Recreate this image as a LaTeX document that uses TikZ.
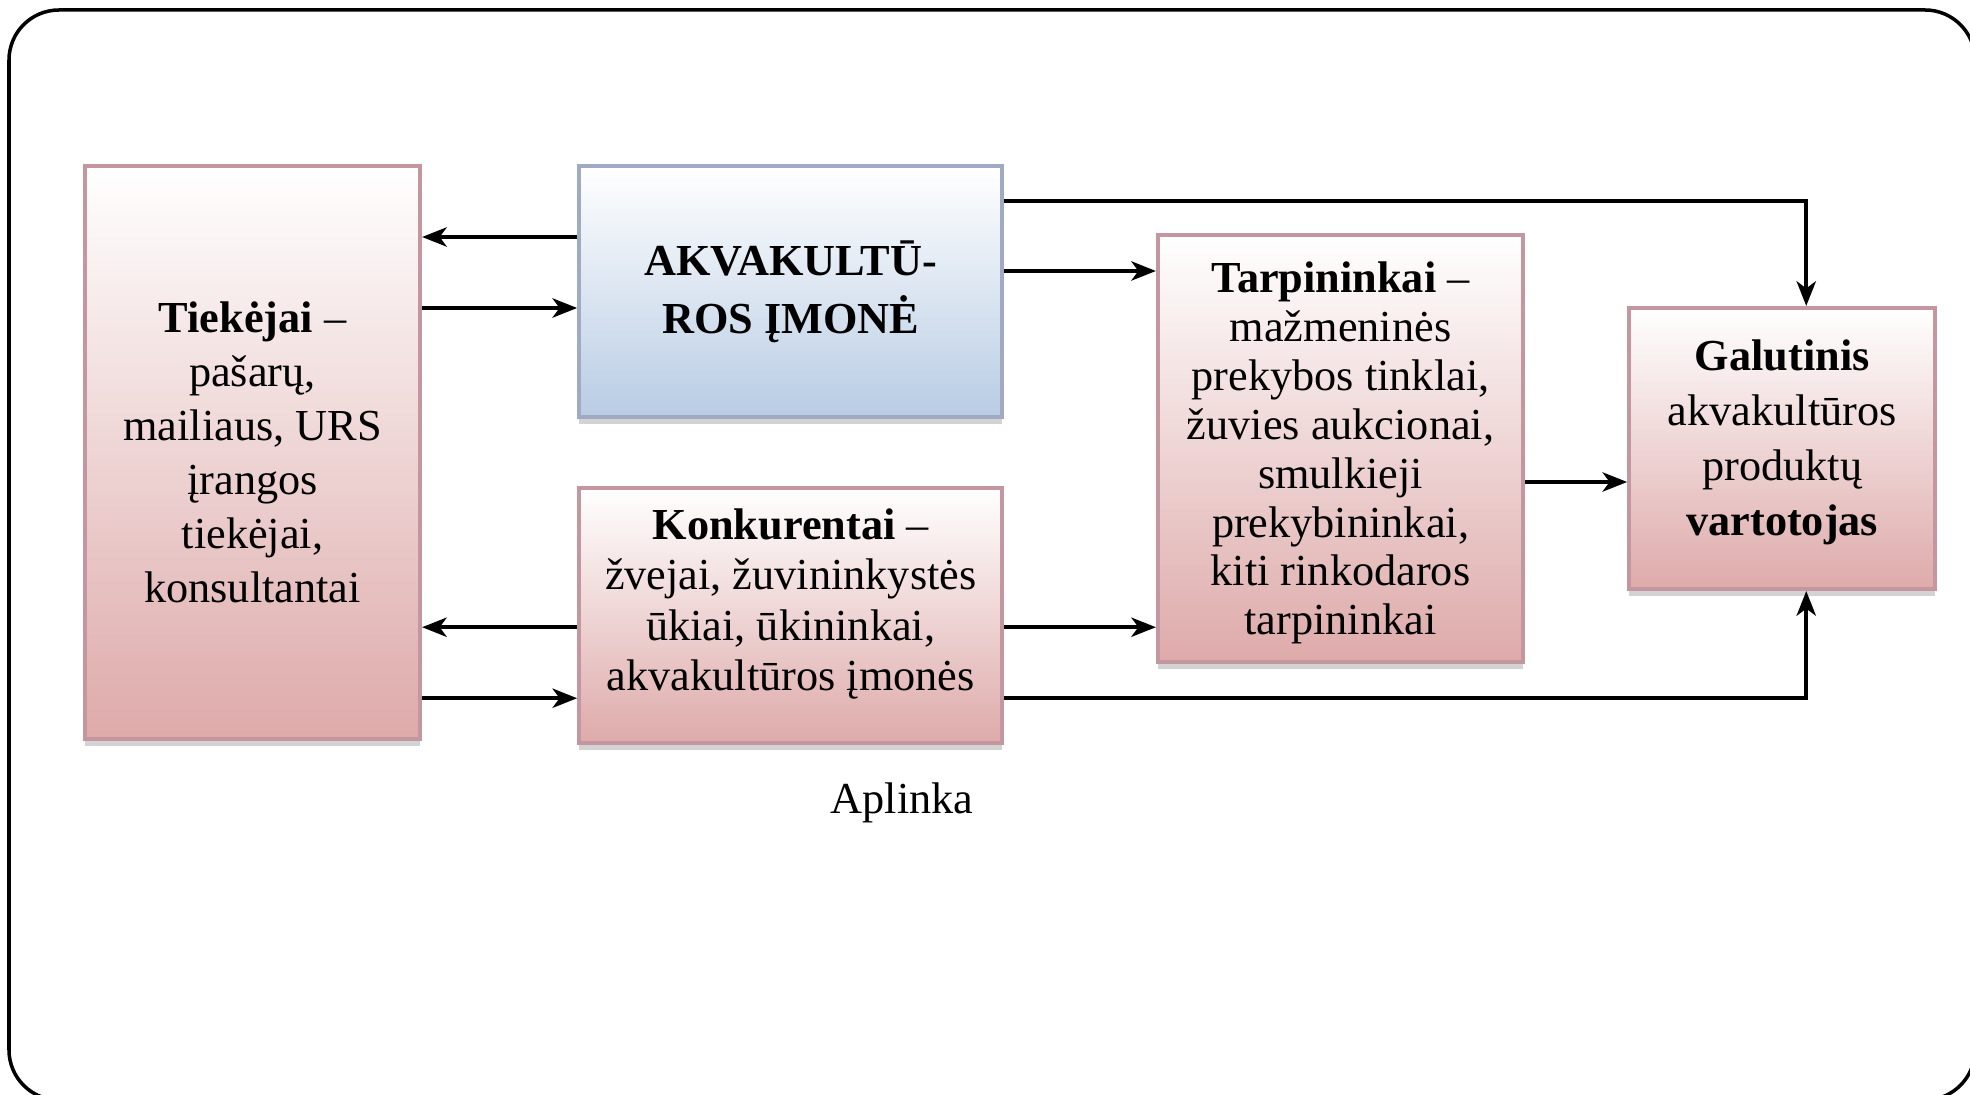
\documentclass[tikz,border=0pt]{standalone}
\usepackage{fontspec}
\setmainfont{Liberation Serif}
\usetikzlibrary{positioning,arrows.meta,shadows}

\definecolor{pinkbot}{RGB}{222,170,170}
\definecolor{pinkline}{RGB}{196,150,160}
\definecolor{bluebot}{RGB}{184,204,228}
\definecolor{blueline}{RGB}{160,170,195}

\begin{document}
\begin{tikzpicture}[>={Stealth[length=7pt,width=5.5pt,inset=2pt]},
  pinkbox/.style={draw=pinkline, line width=1.2pt, top color=white, bottom color=pinkbot, align=center, inner sep=2pt,
    drop shadow={shadow xshift=0pt, shadow yshift=-2pt, opacity=0.35}},
  bluebox/.style={pinkbox, draw=blueline, bottom color=bluebot},
  txt/.style={font=\fontsize{12.6}{#1}\selectfont},
  link/.style={->, line width=1pt}]
  \useasboundingbox (0,0) rectangle (19.70,-10.95);
  \begin{scope}
    \clip (0,0) rectangle (19.70,-10.95);
    \draw[line width=1pt, rounded corners=0.5cm] (0.09,-0.10) rectangle (19.75,-11.00);
  \end{scope}

  \node[pinkbox, minimum width=3.35cm, minimum height=5.73cm, txt=15.4pt] (tiek) at (2.525,-4.525)
    {\textbf{Tiekėjai} –\\pašarų,\\mailiaus, URS\\įrangos\\tiekėjai,\\konsultantai};
  \node[bluebox, minimum width=4.23cm, minimum height=2.51cm, txt=16.4pt, right=1.55cm of tiek.north east, anchor=north west] (akva)
    {\textbf{AKVAKULTŪ-}\\\textbf{ROS ĮMONĖ}};
  \node[pinkbox, minimum width=4.23cm, minimum height=2.55cm, txt=14.4pt, text depth=0.32cm, below=0.67cm of akva] (konk)
    {\textbf{Konkurentai} –\\žvejai, žuvininkystės\\ūkiai, ūkininkai,\\akvakultūros įmonės};
  \node[pinkbox, minimum width=3.65cm, minimum height=4.27cm, txt=13.9pt, text depth=0pt] (tarp) at (13.405,-4.485)
    {\textbf{Tarpininkai} –\\mažmeninės\\prekybos tinklai,\\žuvies aukcionai,\\smulkieji\\prekybininkai,\\kiti rinkodaros\\tarpininkai};
  \node[pinkbox, minimum width=3.06cm, minimum height=2.81cm, txt=15.6pt, text depth=0.22cm, right=1.02cm of tarp] (galut)
    {\textbf{Galutinis}\\akvakultūros\\produktų\\\textbf{vartotojas}};
  \node[txt=15pt] (aplinka) at (9.02,-8.03) {Aplinka};

  \draw[link] ([yshift=0.545cm]akva.west) -- ([yshift=0.545cm]akva.west -| tiek.east);
  \draw[link] ([yshift=-0.165cm]akva.west -| tiek.east) -- ([yshift=-0.165cm]akva.west);
  \draw[link] ([yshift=-0.115cm]konk.west) -- ([yshift=-0.115cm]konk.west -| tiek.east);
  \draw[link] ([yshift=-0.825cm]konk.west -| tiek.east) -- ([yshift=-0.825cm]konk.west);
  \draw[link] ([yshift=0.205cm]akva.east) -- ([yshift=0.205cm]akva.east -| tarp.west);
  \draw[link] ([yshift=-0.115cm]konk.east) -- ([yshift=-0.115cm]konk.east -| tarp.west);
  \draw[link] ([yshift=-0.335cm]tarp.east) -- ([yshift=-0.335cm]tarp.east -| galut.west);
  \draw[link] ([yshift=0.905cm]akva.east) -| ([xshift=0.24cm]galut.north);
  \draw[link] ([yshift=-0.825cm]konk.east) -| ([xshift=0.24cm]galut.south);
\end{tikzpicture}
\end{document}
